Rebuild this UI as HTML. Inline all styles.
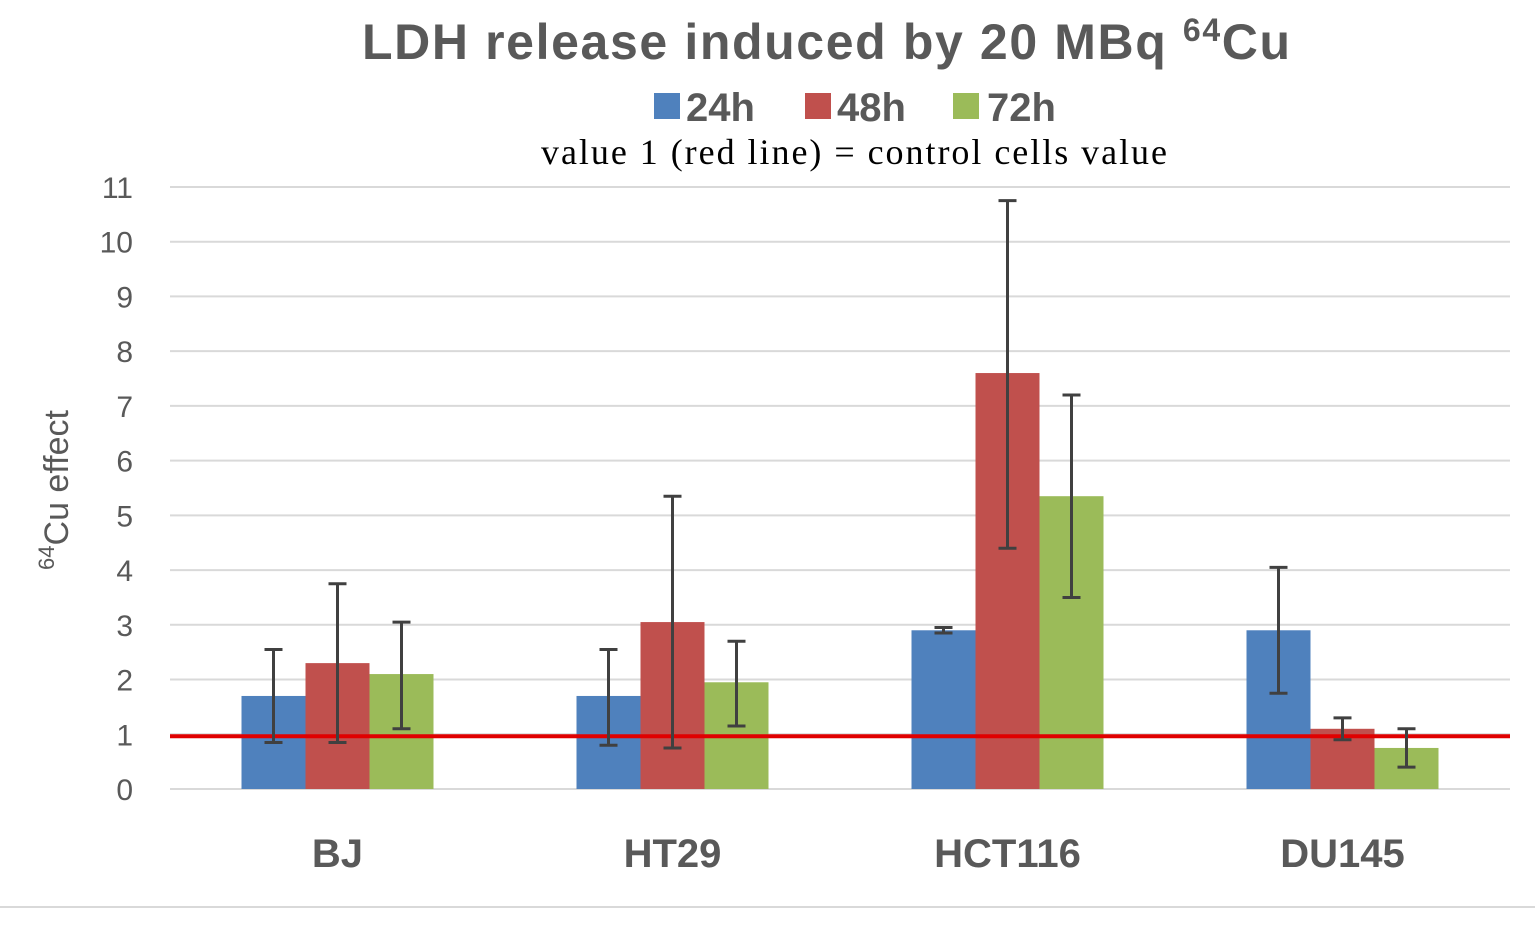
<!DOCTYPE html>
<html><head><meta charset="utf-8"><style>
body{margin:0;background:#fff;}
svg text{font-family:"Liberation Sans",sans-serif;}
</style></head><body>
<svg id="chart" width="1535" height="920" xmlns="http://www.w3.org/2000/svg">
<text x="362" y="59" font-size="50" font-weight="bold" fill="#595959" textLength="928" lengthAdjust="spacing">LDH release induced by 20 MBq <tspan dy="-18" font-size="32">64</tspan><tspan dy="18">Cu</tspan></text>
<g font-size="40" font-weight="bold" fill="#595959">
<rect x="654" y="93" width="26" height="26" fill="#4f81bd"/>
<text x="686" y="121">24h</text>
<rect x="805" y="93" width="26" height="26" fill="#c0504d"/>
<text x="837" y="121">48h</text>
<rect x="953" y="93" width="26" height="26" fill="#9bbb59"/>
<text x="987" y="121">72h</text>
</g>
<text x="541" y="164" font-size="36" style="font-family:'Liberation Serif',serif" fill="#000" textLength="626" lengthAdjust="spacing">value 1 (red line) =  control cells value</text>
<text transform="translate(68,490) rotate(-90)" text-anchor="middle" font-size="34" fill="#595959"><tspan dy="-14" font-size="22">64</tspan><tspan dy="14">Cu effect</tspan></text>
<g id="grid"></g><g id="bars"></g><g id="ticks"></g><g id="cats"></g>
<line x1="0" y1="907" x2="1535" y2="907" stroke="#d9d9d9" stroke-width="2"/>
</svg>
<script>
const categories=["BJ","HT29","HCT116","DU145"];
const series=["24h","48h","72h"];
const colors=["#4f81bd","#c0504d","#9bbb59"];
const v24=[1.7,1.7,2.9,2.9];
const v48=[2.3,3.05,7.6,1.1];
const v72=[2.1,1.95,5.35,0.75];
const lo24=[0.85,0.8,2.85,1.75];
const hi24=[2.55,2.55,2.95,4.05];
const lo48=[0.85,0.75,4.4,0.9];
const hi48=[3.75,5.35,10.75,1.3];
const lo72=[1.1,1.15,3.5,0.4];
const hi72=[3.05,2.7,7.2,1.1];
const yTicks=[0,1,2,3,4,5,6,7,8,9,10,11];
const refValue=1;
const NS="http://www.w3.org/2000/svg";
const x0=170,x1=1510,yb=789,pu=54.73;
const y=v=>yb-v*pu;
const gw=(x1-x0)/categories.length;
const bw=64;
function mk(t,a,p){const e=document.createElementNS(NS,t);for(const k in a)e.setAttribute(k,a[k]);p.appendChild(e);return e;}
const grid=document.getElementById('grid'),bars=document.getElementById('bars'),ticks=document.getElementById('ticks'),cats=document.getElementById('cats');
yTicks.forEach(t=>{
 const l=mk('line',{x1:x0,x2:x1,y1:y(t),y2:y(t),stroke:'#d9d9d9','stroke-width':2},grid);
 
 
 const tx=mk('text',{x:133,y:y(t)+11,'text-anchor':'end','font-size':30,fill:'#595959'},ticks);
 tx.textContent=t;
 
 
});
const vals=[v24,v48,v72],los=[lo24,lo48,lo72],his=[hi24,hi48,hi72];
const errs=[];
categories.forEach((c,i)=>{
 const cx=x0+gw*(i+0.5);
 series.forEach((s,j)=>{
  const bx=cx-1.5*bw+j*bw;
  const r=mk('rect',{x:bx,y:y(vals[j][i]),width:bw,height:vals[j][i]*pu,fill:colors[j]},bars);
  
  
  errs.push([bx+bw/2,los[j][i],his[j][i],c,s]);
 });
 const t=mk('text',{x:cx,y:867,'text-anchor':'middle','font-size':40,'font-weight':'bold',fill:'#595959'},cats);
 t.textContent=c;
 
 
});
const rl=mk('line',{x1:x0,x2:x1,y1:y(refValue)+2,y2:y(refValue)+2,stroke:'#e00000','stroke-width':4},bars);


errs.forEach(e=>{
 const g=mk('g',{stroke:'#404040','stroke-width':3},bars);
 
 
 mk('line',{x1:e[0],x2:e[0],y1:y(e[1]),y2:y(e[2])},g);
 mk('line',{x1:e[0]-9,x2:e[0]+9,y1:y(e[1]),y2:y(e[1])},g);
 mk('line',{x1:e[0]-9,x2:e[0]+9,y1:y(e[2]),y2:y(e[2])},g);
});
</script>
</body></html>
